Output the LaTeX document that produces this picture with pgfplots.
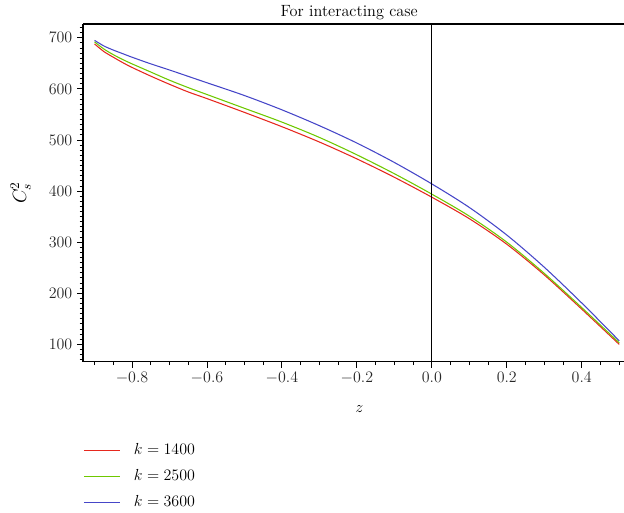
\documentclass[border=0pt]{standalone}
\usepackage{pgfplots}
\pgfplotsset{compat=1.18}
\definecolor{cred}{RGB}{230,40,30}
\definecolor{cgreen}{RGB}{110,200,0}
\definecolor{cblue}{RGB}{70,70,200}
\begin{document}
\begin{tikzpicture}
\path[use as bounding box] (0,0) rectangle (468pt,-384.75pt);
\begin{axis}[
  at={(62.25pt,-271.3pt)}, anchor=south west,
  scale only axis, width=405.75pt, height=253.3pt,
  xmin=-0.9308, xmax=0.5128, ymin=66, ymax=727,
  axis lines=left, axis line style={-, line width=0.9pt},
  tick align=outside, major tick length=4.5pt, minor tick length=2.5pt,
  tick style={black, line width=0.7pt},
  xtick={-0.8,-0.6,-0.4,-0.2,0,0.2,0.4},
  minor xtick={-0.9,-0.85,-0.75,-0.7,-0.65,-0.55,-0.5,-0.45,-0.35,-0.3,-0.25,-0.15,-0.1,-0.05,0.05,0.1,0.15,0.25,0.3,0.35,0.45,0.5},
  ytick={100,200,...,700},
  minor ytick={70,80,...,720},
  xticklabel style={/pgf/number format/fixed, /pgf/number format/fixed zerofill, /pgf/number format/precision=1},
  ticklabel style={font=\fontsize{12.5}{14}\selectfont, text=black!85},
  every axis title shift=0pt,
  title={For interacting case},
  title style={at={(axis description cs:0.492,1.0225)}, anchor=base, font=\fontsize{12.2}{14}\selectfont},
  xlabel={$z$},
  xlabel style={at={(axis description cs:0.511,-0.14)}, anchor=center, font=\fontsize{13}{14}\selectfont},
  ylabel={$C_s^2$},
  ylabel style={at={(axis description cs:-0.115,0.5)}, anchor=center, rotate=0, font=\fontsize{14}{15}\selectfont},
  legend style={at={(axis description cs:0,-0.243)}, anchor=north west, draw=none, fill=none,
    inner sep=0pt, row sep=10pt, font=\fontsize{12.5}{14}\selectfont,
    nodes={inner sep=0pt, text height=8pt, text depth=1.5pt}},
  legend cell align=left,
  legend image code/.code={\draw[#1, line width=1pt] (0pt,0pt) -- (27pt,0pt);},
  every axis legend/.append style={column sep=0pt},
]
\addplot[cred, line width=0.8pt, smooth] coordinates {
(-0.9,688)(-0.875,673)(-0.85,662)(-0.825,651.5)(-0.8,642)(-0.75,625)(-0.7,609)(-0.65,594)(-0.6,581)(-0.5,554)(-0.4,526)(-0.3,496)(-0.2,463)(-0.1,427)(0,388)(0.1,346)(0.2,296)(0.3,236)(0.4,169)(0.5,100)};
\addlegendentry{\hspace{10pt}$k = 1400$}
\addplot[cgreen, line width=0.8pt, smooth] coordinates {
(-0.9,692)(-0.875,678)(-0.85,667)(-0.825,657.5)(-0.8,649)(-0.75,633)(-0.7,617)(-0.65,602.5)(-0.6,589)(-0.5,562)(-0.4,535)(-0.3,505)(-0.2,471)(-0.1,434)(0,394)(0.1,351)(0.2,300)(0.3,239)(0.4,172)(0.5,103)};
\addlegendentry{\hspace{10pt}$k = 2500$}
\addplot[cblue, line width=0.8pt, smooth] coordinates {
(-0.9,695)(-0.875,684)(-0.85,676)(-0.825,669)(-0.8,662)(-0.75,649)(-0.7,637)(-0.65,624.5)(-0.6,612)(-0.5,587)(-0.4,559)(-0.3,528)(-0.2,494)(-0.1,456)(0,414)(0.1,368)(0.2,314)(0.3,251)(0.4,181)(0.5,107)};
\addlegendentry{\hspace{10pt}$k = 3600$}
\draw[black, line width=0.9pt] (rel axis cs:0,1) -- (rel axis cs:1,1);
\draw[black, line width=0.8pt] (axis cs:0,66) -- (axis cs:0,727);
\end{axis}
\end{tikzpicture}
\end{document}
